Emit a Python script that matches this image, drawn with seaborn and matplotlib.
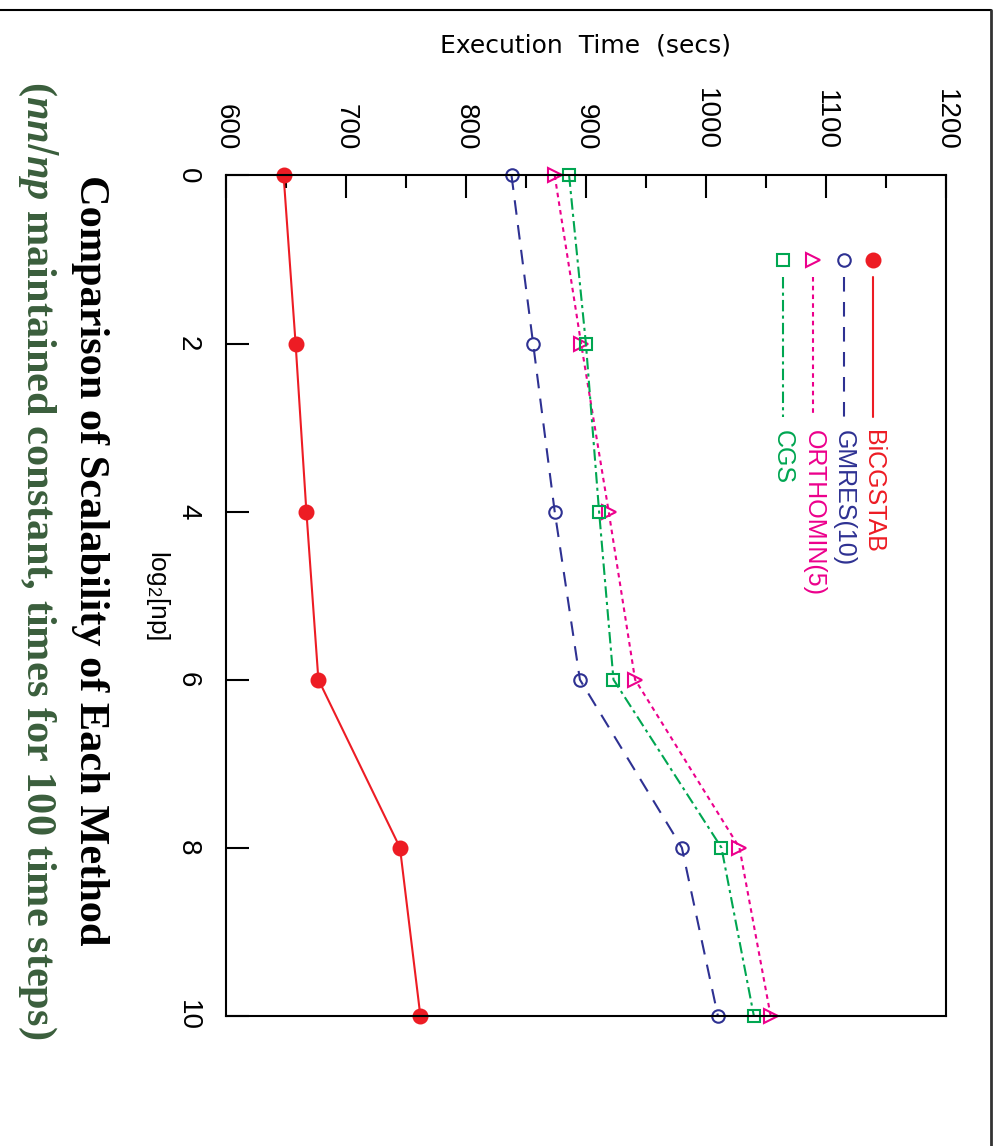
"""Scalability comparison of the iterative solvers (page rotated clockwise)."""

import matplotlib.pyplot as plt
import numpy as np
import pandas as pd
import seaborn as sns
from matplotlib.lines import Line2D
from matplotlib.ticker import MultipleLocator

# ---- data ----
log2_np = [0, 2, 4, 6, 8, 10]
bicgstab = [648, 658, 667, 677, 745, 762]
gmres = [838, 856, 874, 895, 980, 1010]
orthomin = [874, 896, 919, 941, 1028, 1054]
cgs = [886, 900, 911, 923, 1013, 1040]

methods = ["BiCGSTAB", "GMRES(10)", "ORTHOMIN(5)", "CGS"]
times = [bicgstab, gmres, orthomin, cgs]
x_ticks = [600, 700, 800, 900, 1000, 1100, 1200]
y_ticks = [0, 2, 4, 6, 8, 10]

colors = ["#ED1C24", "#2E3192", "#EC008C", "#00A651"]
styles = [
    dict(linestyle="-", marker="o", markersize=10, markerfacecolor="#ED1C24", markeredgecolor="#ED1C24"),
    dict(linestyle=(0, (7, 5)), marker="o", markersize=9, markerfacecolor="none", markeredgecolor="#2E3192"),
    dict(linestyle=(0, (2.2, 2.0)), marker=">", markersize=9.5, markerfacecolor="none", markeredgecolor="#EC008C"),
    dict(linestyle=(0, (5.5, 2, 1.5, 2)), marker="s", markersize=9, markerfacecolor="none", markeredgecolor="#00A651"),
]

sns.set_theme(style="white")
plt.rcParams["font.family"] = ["Liberation Sans", "DejaVu Sans"]
plt.rcParams["mathtext.fontset"] = "custom"
plt.rcParams["mathtext.rm"] = "Liberation Sans"
plt.rcParams["mathtext.it"] = "Liberation Serif:italic:bold"
for key in ["text.color", "axes.labelcolor", "xtick.color", "ytick.color", "axes.edgecolor"]:
    plt.rcParams[key] = "black"

fig = plt.figure(figsize=(9.97, 11.46), dpi=100)
ax = fig.add_axes([0.2267, 0.1137, 0.7219, 0.7332])

for name, t, c, st in zip(methods, times, colors, styles):
    df = pd.DataFrame({"time": t, "log2np": log2_np})
    sns.lineplot(
        data=df, x="time", y="log2np", orient="y", errorbar=None,
        color=c, linewidth=1.5, markeredgewidth=1.5, clip_on=False, ax=ax, **st,
    )

ax.set_xlim(600, 1200)
ax.set_ylim(10, 0)
ax.set_xticks(x_ticks)
ax.set_yticks(y_ticks)
ax.xaxis.set_minor_locator(MultipleLocator(50))
ax.xaxis.tick_top()
ax.tick_params(axis="x", which="both", top=True, bottom=False, labeltop=True, labelbottom=False,
               direction="in", width=1.5, labelsize=20, pad=18, labelrotation=-90)
ax.tick_params(axis="x", which="major", length=16.5)
ax.tick_params(axis="x", which="minor", length=9.5)
ax.tick_params(axis="y", which="major", left=True, right=False, direction="in", length=16.5,
               width=1.5, labelsize=20, pad=18, labelrotation=-90)
for lab in ax.get_yticklabels():
    lab.set_va("center")
for sp in ax.spines.values():
    sp.set_linewidth(1.5)
ax.grid(False)

ax.xaxis.set_label_position("top")
ax.set_xlabel("Execution  Time  (secs)", fontsize=18, family=["DejaVu Sans"], va="center")
ax.xaxis.set_label_coords(0.5, 1.155)
ax.set_ylabel(r"log$_2$[np]", fontsize=19, rotation=-90, va="center", ha="center")
ax.yaxis.set_label_coords(-0.094, 0.5)

# legend drawn in rotated form
leg_x = [0.8994, 0.8587, 0.8161, 0.7735]
for lx, name, c, st in zip(leg_x, methods, colors, styles):
    ax.plot([lx, lx], [0.8796, 0.7129], transform=ax.transAxes, color=c, linewidth=1.5,
            linestyle=st["linestyle"], clip_on=False)
    ax.plot([lx], [0.8994], transform=ax.transAxes, color=c, linestyle="none", marker=st["marker"],
            markersize=st["markersize"], markerfacecolor=st["markerfacecolor"],
            markeredgecolor=st["markeredgecolor"], markeredgewidth=1.5, clip_on=False)
    ax.text(lx, 0.6971, name, transform=ax.transAxes, rotation=-90, color=c, fontsize=18,
            family=["Liberation Sans Narrow", "Liberation Sans"], ha="center", va="top")

# titles
fig.text(0.0903, 0.5113, "Comparison of Scalability of Each Method", rotation=-90,
         family=["Liberation Serif"], weight="bold", fontsize=30.5, color="black",
         ha="center", va="center")
fig.text(0.038, 0.5113, r"($\mathit{nn/np}$ maintained constant, times for 100 time steps)", rotation=-90,
         family=["Liberation Serif"], weight="bold", fontsize=30.5, color="#3A5E3C",
         ha="center", va="center")

# page frame
fig.add_artist(Line2D([0.0, 0.9935], [0.9913, 0.9913], transform=fig.transFigure, color="black", linewidth=1.5))
fig.add_artist(Line2D([0.9935, 0.9935], [0.0, 0.9913], transform=fig.transFigure, color="#333333", linewidth=2.0))

fig.savefig("out.png", dpi=100)
